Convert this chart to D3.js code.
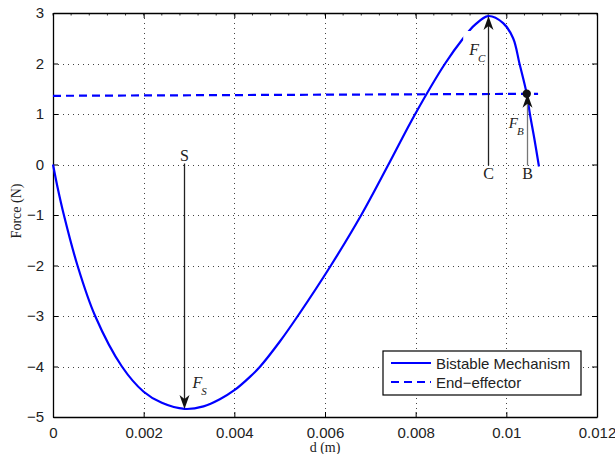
<!DOCTYPE html>
<html>

<head>
    <meta charset="UTF-8">
    <title>Bistable Mechanism</title>
    <script src="https://d3js.org/d3.v7.min.js"></script>
    <style>
        body { margin: 0; background: #fff; }
        text { fill: #222; }
    </style>
</head>

<body>
    <div id="chart"></div>
    <script type="text/javascript">
        // force-displacement curve
        const disp = [0, 0.0001, 0.00024, 0.00054, 0.00093, 0.00152, 0.002, 0.0024, 0.0029, 0.00332, 0.00368,
            0.004, 0.00435, 0.00457, 0.005, 0.0054, 0.00613, 0.0068, 0.0074,
            0.00799, 0.00865, 0.00905, 0.0093, 0.0096, 0.00993, 0.01015, 0.01029, 0.01045, 0.01052,
            0.01062, 0.01072];
        const force = [0, -0.45, -1, -2, -3, -4, -4.5, -4.72, -4.84, -4.79, -4.65,
            -4.47, -4.2, -4, -3.51, -3, -2, -1, 0,
            1, 2, 2.5, 2.76, 2.94, 2.8, 2.5, 2, 1.4, 1,
            0.5, -0.04];
        const effDisp = [0, 0.0107];
        const effForce = [1.36, 1.40];

        const xTicks = [0, 0.002, 0.004, 0.006, 0.008, 0.01, 0.012];
        const xTickLabels = ["0", "0.002", "0.004", "0.006", "0.008", "0.01", "0.012"];
        const yTicks = [-5, -4, -3, -2, -1, 0, 1, 2, 3];
        const yTickLabels = ["\u22125", "\u22124", "\u22123", "\u22122", "\u22121", "0", "1", "2", "3"];

        const seriesNames = ["Bistable Mechanism", "End\u2212effector"];

        // annotation arrows: x, start force, tip force, label
        const arrowX = [0.0029, 0.0096, 0.01045];
        const arrowFrom = [0, 0, 0];
        const arrowTo = [-4.84, 2.94, 1.40];
        const arrowNames = ["S", "C", "B"];

        const width = 615;
        const height = 454;
        const pLeft = 53, pRight = 597, pTop = 13, pBottom = 417;

        const x = d3.scaleLinear().domain([0, 0.012]).range([pLeft, pRight]);
        const y = d3.scaleLinear().domain([-5, 3]).range([pBottom, pTop]);

        const svg = d3.select("#chart")
            .append("svg")
            .attr("width", width)
            .attr("height", height)
            .style("font-family", "'Liberation Sans', Arial, sans-serif");

        // grid
        const grid = svg.append("g")
            .attr("stroke", "#444")
            .attr("stroke-width", 1)
            .attr("stroke-dasharray", "1,4");
        grid.selectAll("line.gx")
            .data(xTicks.slice(1, -1))
            .enter()
            .append("line")
            .attr("x1", d => Math.round(x(d)) + 0.5)
            .attr("x2", d => Math.round(x(d)) + 0.5)
            .attr("y1", pTop)
            .attr("y2", pBottom);
        grid.selectAll("line.gy")
            .data(yTicks.slice(1, -1))
            .enter()
            .append("line")
            .attr("y1", d => Math.round(y(d)) + 0.5)
            .attr("y2", d => Math.round(y(d)) + 0.5)
            .attr("x1", pLeft)
            .attr("x2", pRight);

        // axes, ticks inward on all sides
        const xAxisB = d3.axisBottom(x).tickValues(xTicks).tickSizeInner(-5).tickSizeOuter(0)
            .tickFormat((d, i) => xTickLabels[i]).tickPadding(10);
        const xAxisT = d3.axisTop(x).tickValues(xTicks).tickSizeInner(-5).tickSizeOuter(0).tickFormat("");
        const yAxisL = d3.axisLeft(y).tickValues(yTicks).tickSizeInner(-5).tickSizeOuter(0)
            .tickFormat((d, i) => yTickLabels[i]).tickPadding(9);
        const yAxisR = d3.axisRight(y).tickValues(yTicks).tickSizeInner(-5).tickSizeOuter(0).tickFormat("");

        const axes = [
            [xAxisB, "translate(0," + pBottom + ")"],
            [xAxisT, "translate(0," + pTop + ")"],
            [yAxisL, "translate(" + pLeft + ",0)"],
            [yAxisR, "translate(" + pRight + ",0)"]
        ];
        axes.forEach(function (a) {
            const g = svg.append("g").attr("transform", a[1]).call(a[0]);
            g.select(".domain").attr("stroke", "#000").attr("stroke-width", 1.3);
            g.selectAll(".tick line").attr("stroke", "#000");
            g.selectAll("text").style("font-size", "15px").attr("fill", "#222")
                .style("font-family", "'Liberation Sans', Arial, sans-serif");
        });

        // minor ticks along top edge
        svg.append("g").selectAll("line")
            .data(d3.range(0, 0.01201, 0.0004))
            .enter()
            .append("line")
            .attr("x1", d => x(d)).attr("x2", d => x(d))
            .attr("y1", pTop).attr("y2", pTop + 2.5)
            .attr("stroke", "#000").attr("stroke-width", 0.8);

        // axis titles
        svg.append("text")
            .attr("x", (pLeft + pRight) / 2)
            .attr("y", 452)
            .attr("text-anchor", "middle")
            .style("font-family", "'Liberation Serif', 'Times New Roman', serif")
            .style("font-size", "14px")
            .text("d (m)");
        svg.append("text")
            .attr("transform", "translate(21," + ((pTop + pBottom) / 2 - 4) + ")rotate(-90)")
            .attr("text-anchor", "middle")
            .style("font-family", "'Liberation Serif', 'Times New Roman', serif")
            .style("font-size", "14px")
            .text("Force (N)");

        // series
        const line = d3.line()
            .x((d, i) => x(disp[i]))
            .y(d => y(d))
            .curve(d3.curveCatmullRom.alpha(0.5));
        svg.append("path")
            .datum(force)
            .attr("d", line)
            .attr("fill", "none")
            .attr("stroke", "#0000ff")
            .attr("stroke-width", 2.2);

        const effLine = d3.line()
            .x((d, i) => x(effDisp[i]))
            .y(d => y(d));
        svg.append("path")
            .datum(effForce)
            .attr("d", effLine)
            .attr("fill", "none")
            .attr("stroke", "#0000ff")
            .attr("stroke-width", 2.2)
            .attr("stroke-dasharray", "8,5");

        // white box behind F_C label (cuts the curve as in the figure)
        svg.append("rect")
            .attr("x", x(arrowX[1]) - 25).attr("y", 31)
            .attr("width", 22).attr("height", 30)
            .attr("fill", "#fff");

        // arrows
        const head = "M0,0L-5,14L0,10L5,14Z";
        const serif = "'Liberation Serif', 'Times New Roman', serif";
        arrowX.forEach(function (d, i) {
            const px = Math.round(x(d)) + 0.5;
            const y0 = y(arrowFrom[i]);
            const y1 = y(arrowTo[i]);
            const dir = y1 > y0 ? 1 : -1;
            svg.append("line")
                .attr("x1", px).attr("x2", px)
                .attr("y1", y0 - dir * 1).attr("y2", y1 - dir * 8)
                .attr("stroke", i === 2 ? "#777" : "#222")
                .attr("stroke-width", 1.3);
            svg.append("path")
                .attr("d", head)
                .attr("transform", "translate(" + px + "," + y1 + ")" + (dir > 0 ? "rotate(180)" : ""))
                .attr("fill", "#111");
            // point label
            svg.append("text")
                .attr("x", px)
                .attr("y", dir > 0 ? y0 - 4 : y0 + 14)
                .attr("text-anchor", "middle")
                .style("font-family", serif)
                .style("font-size", "16px")
                .text(arrowNames[i]);
        });

        // marker at B
        svg.append("circle")
            .attr("cx", x(arrowX[2]))
            .attr("cy", y(arrowTo[2]))
            .attr("r", 4.2)
            .attr("fill", "#111");

        // force labels
        const fLabelPos = [[x(arrowX[0]) + 8, y(arrowTo[0]) - 21], [x(arrowX[1]) - 19, 55], [x(arrowX[2]) - 18, 128]];
        arrowNames.forEach(function (n, i) {
            const t = svg.append("text")
                .attr("x", fLabelPos[i][0])
                .attr("y", fLabelPos[i][1])
                .style("font-family", serif)
                .style("font-style", "italic")
                .style("font-size", i === 2 ? "15px" : "16px")
                .attr("fill", "#333");
            t.append("tspan").text("F");
            t.append("tspan")
                .attr("dx", -1)
                .attr("dy", 7)
                .style("font-size", "11px")
                .text(n);
        });

        // legend
        const lg = svg.append("g").attr("transform", "translate(383,351)");
        lg.append("rect")
            .attr("width", 198)
            .attr("height", 44)
            .attr("fill", "#fff")
            .attr("stroke", "#000")
            .attr("stroke-width", 1.2);
        seriesNames.forEach(function (n, i) {
            lg.append("line")
                .attr("x1", 8).attr("x2", 48)
                .attr("y1", 12 + i * 19).attr("y2", 12 + i * 19)
                .attr("stroke", "#0000ff")
                .attr("stroke-width", 2.2)
                .attr("stroke-dasharray", i === 1 ? "8,5" : null);
            lg.append("text")
                .attr("x", 53)
                .attr("y", 17.5 + i * 19)
                .style("font-size", "15px")
                .text(n);
        });
    </script>
</body>

</html>
